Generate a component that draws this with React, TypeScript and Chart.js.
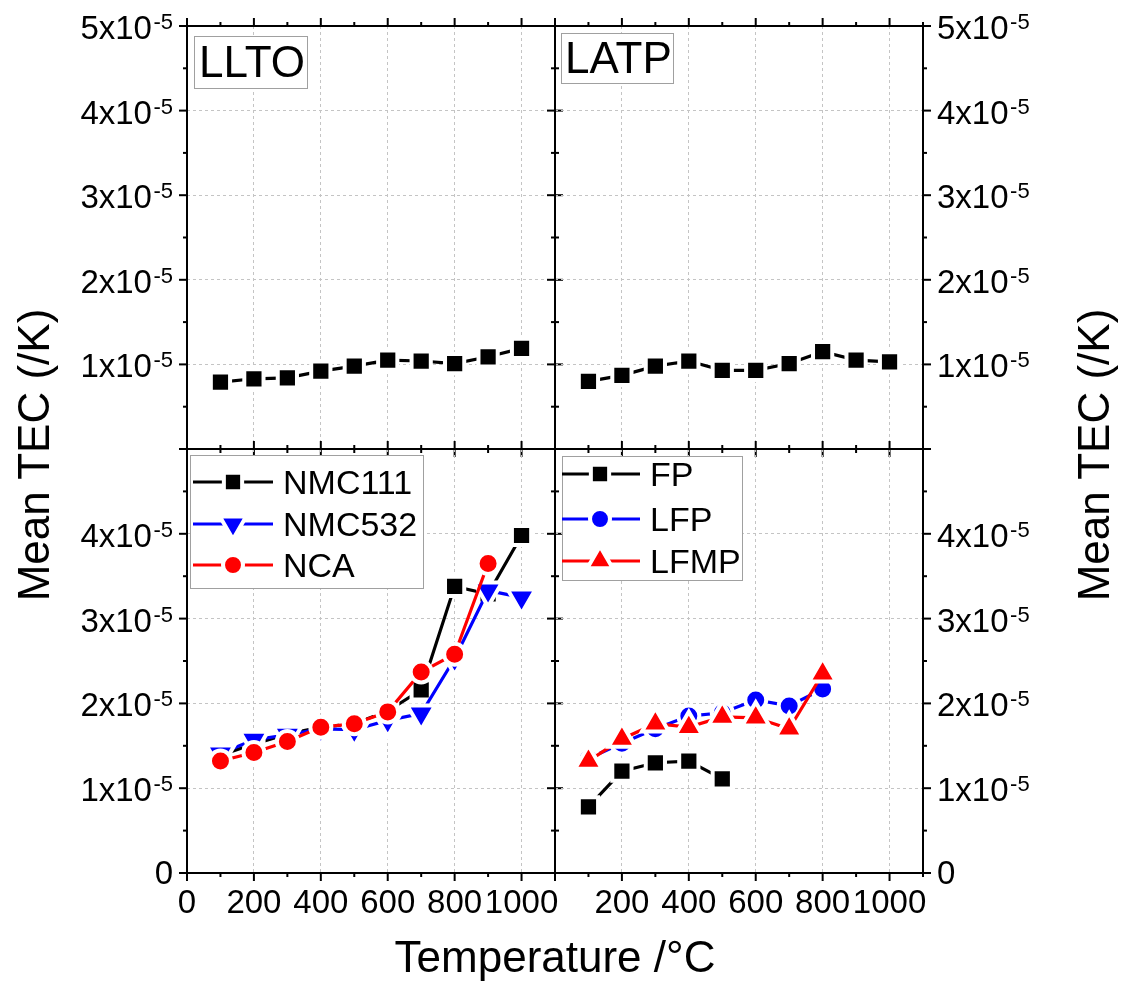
import React, { useEffect, useRef } from 'react';
import { Chart, registerables } from 'chart.js';

Chart.register(...registerables);

// ---------------- data ----------------
const TEMPS = [100, 200, 300, 400, 500, 600, 700, 800, 900, 1000];
const LLTO_TEC = [7.9e-6, 8.3e-6, 8.4e-6, 9.2e-6, 9.8e-6, 10.5e-6, 10.4e-6, 10.1e-6, 10.9e-6, 11.9e-6];
const LATP_TEC = [8.0e-6, 8.7e-6, 9.8e-6, 10.4e-6, 9.3e-6, 9.3e-6, 10.1e-6, 11.5e-6, 10.5e-6, 10.3e-6];

const NMC111_TEC = [1.39e-5, 1.52e-5, 1.64e-5, 1.72e-5, 1.76e-5, 1.91e-5, 2.16e-5, 3.38e-5, 3.29e-5, 3.98e-5];
const NMC532_TEC = [1.41e-5, 1.57e-5, 1.63e-5, 1.7e-5, 1.69e-5, 1.8e-5, 1.88e-5, 2.53e-5, 3.33e-5, 3.25e-5];
const NCA_TEMPS = [100, 200, 300, 400, 500, 600, 700, 800, 900];
const NCA_TEC = [1.32e-5, 1.42e-5, 1.55e-5, 1.72e-5, 1.76e-5, 1.9e-5, 2.37e-5, 2.58e-5, 3.65e-5];

const FP_TEMPS = [100, 200, 300, 400, 500];
const FP_TEC = [0.78e-5, 1.2e-5, 1.3e-5, 1.32e-5, 1.11e-5];
const LFP_TEMPS = [100, 200, 300, 400, 500, 600, 700, 800];
const LFP_TEC = [1.35e-5, 1.53e-5, 1.7e-5, 1.85e-5, 1.89e-5, 2.04e-5, 1.97e-5, 2.17e-5];
const LFMP_TEMPS = [100, 200, 300, 400, 500, 600, 700, 800];
const LFMP_TEC = [1.32e-5, 1.58e-5, 1.76e-5, 1.72e-5, 1.84e-5, 1.83e-5, 1.7e-5, 2.35e-5];

// ---------------- axes ----------------
const X_MIN = 0;
const X_MAX = 1100;
const X_TICKS = [0, 200, 400, 600, 800, 1000];
const X_TICK_LABELS = ['0', '200', '400', '600', '800', '1000'];
const X_MINOR = [0, 100, 200, 300, 400, 500, 600, 700, 800, 900, 1000, 1100];

const Y_MIN = 0;
const Y_MAX = 5e-5;
const Y_TICKS = [0, 1e-5, 2e-5, 3e-5, 4e-5, 5e-5];
const Y_TICK_MAIN = ['0', '1x10', '2x10', '3x10', '4x10', '5x10'];
const Y_TICK_EXP = ['', '-5', '-5', '-5', '-5', '-5'];
const Y_MINOR = [0, 0.5e-5, 1e-5, 1.5e-5, 2e-5, 2.5e-5, 3e-5, 3.5e-5, 4e-5, 4.5e-5, 5e-5];

const X_TITLE = 'Temperature /°C';
const Y_TITLE = 'Mean TEC (/K)';

// ---------------- layout ----------------
const W = 1121;
const H = 988;
const FONT = "'Liberation Sans', Arial, Helvetica, sans-serif";
Chart.defaults.font.family = FONT;

type Series = {
  label: string;
  xs: number[];
  ys: number[];
  color: string;
  style: string;
  radius: number;
  rotation: number;
  order: number;
};

const SQ = { style: 'rect', radius: 13.6, rotation: 0 };
const CI = { style: 'circle', radius: 10.5, rotation: 0 };
const TU = { style: 'triangle', radius: 15.5, rotation: 0 };
const TD = { style: 'triangle', radius: 16, rotation: 180 };

type PanelCfg = {
  key: string;
  rect: { l: number; t: number; r: number; b: number };
  top: boolean;
  right: boolean;
  series: Series[];
  tag: null | { text: string; x: number; y: number; w: number; h: number; tx: number; ty: number };
  legend: null | { x: number; y: number; w: number; h: number; rows: number[]; lx0: number; lx1: number; mx: number; tx: number };
};

const PANELS: PanelCfg[] = [
  {
    key: 'tl',
    rect: { l: 187, t: 26, r: 555, b: 449 },
    top: true,
    right: false,
    series: [{ label: 'LLTO', xs: TEMPS, ys: LLTO_TEC, color: '#000000', order: 0, ...SQ }],
    tag: { text: 'LLTO', x: 194, y: 36, w: 113, h: 52, tx: 199, ty: 77 },
    legend: null,
  },
  {
    key: 'tr',
    rect: { l: 555, t: 26, r: 923, b: 449 },
    top: true,
    right: true,
    series: [{ label: 'LATP', xs: TEMPS, ys: LATP_TEC, color: '#000000', order: 0, ...SQ }],
    tag: { text: 'LATP', x: 561, y: 33, w: 112, h: 50, tx: 565, ty: 73 },
    legend: null,
  },
  {
    key: 'bl',
    rect: { l: 187, t: 449, r: 555, b: 873 },
    top: false,
    right: false,
    series: [
      { label: 'NMC111', xs: TEMPS, ys: NMC111_TEC, color: '#000000', order: 2, ...SQ },
      { label: 'NMC532', xs: TEMPS, ys: NMC532_TEC, color: '#0000ff', order: 1, ...TD },
      { label: 'NCA', xs: NCA_TEMPS, ys: NCA_TEC, color: '#ff0000', order: 0, ...CI },
    ],
    tag: null,
    legend: { x: 190, y: 455, w: 233, h: 133, rows: [482, 524, 565], lx0: 193, lx1: 273, mx: 233, tx: 283 },
  },
  {
    key: 'br',
    rect: { l: 555, t: 449, r: 923, b: 873 },
    top: false,
    right: true,
    series: [
      { label: 'FP', xs: FP_TEMPS, ys: FP_TEC, color: '#000000', order: 2, ...SQ },
      { label: 'LFP', xs: LFP_TEMPS, ys: LFP_TEC, color: '#0000ff', order: 1, ...CI },
      { label: 'LFMP', xs: LFMP_TEMPS, ys: LFMP_TEC, color: '#ff0000', order: 0, ...TU },
    ],
    tag: null,
    legend: { x: 562, y: 456, w: 180, h: 124, rows: [474, 519, 561], lx0: 562, lx1: 640, mx: 600, tx: 650 },
  },
];

function drawMarker(ctx: CanvasRenderingContext2D, style: string, x: number, y: number, r: number, rot: number, color: string) {
  ctx.save();
  ctx.beginPath();
  if (style === 'rect') {
    const s = r * Math.SQRT1_2;
    ctx.rect(x - s, y - s, 2 * s, 2 * s);
  } else if (style === 'circle') {
    ctx.arc(x, y, r, 0, Math.PI * 2);
  } else {
    let a = (rot * Math.PI) / 180;
    ctx.moveTo(x + Math.sin(a) * r, y - Math.cos(a) * r);
    a += (2 * Math.PI) / 3;
    ctx.lineTo(x + Math.sin(a) * r, y - Math.cos(a) * r);
    a += (2 * Math.PI) / 3;
    ctx.lineTo(x + Math.sin(a) * r, y - Math.cos(a) * r);
    ctx.closePath();
  }
  ctx.fillStyle = color;
  ctx.fill();
  ctx.strokeStyle = '#ffffff';
  ctx.lineWidth = 4;
  ctx.stroke();
  ctx.restore();
}

function makeDecor(cfg: PanelCfg) {
  return {
    id: 'decor_' + cfg.key,
    afterDraw(chart: any) {
      const ctx: CanvasRenderingContext2D = chart.ctx;
      const a = chart.chartArea;
      const xs = chart.scales.x;
      const ys = chart.scales.y;
      ctx.save();
      // frame
      ctx.strokeStyle = '#000000';
      ctx.lineWidth = 2;
      ctx.strokeRect(a.left, a.top, a.right - a.left, a.bottom - a.top);
      // tick marks, outward on all four sides
      const seg = (x0: number, y0: number, x1: number, y1: number) => {
        ctx.beginPath();
        ctx.moveTo(x0, y0);
        ctx.lineTo(x1, y1);
        ctx.stroke();
      };
      X_MINOR.forEach((v) => {
        const px = xs.getPixelForValue(v);
        const len = v % 200 === 0 ? 8 : 4;
        seg(px, a.top, px, a.top - len);
        seg(px, a.bottom, px, a.bottom + len);
      });
      Y_MINOR.forEach((v) => {
        const py = ys.getPixelForValue(v);
        const len = Math.round(v / 0.5e-5) % 2 === 0 ? 8 : 4;
        seg(a.left, py, a.left - len, py);
        seg(a.right, py, a.right + len, py);
      });
      ctx.fillStyle = '#000000';
      ctx.textBaseline = 'alphabetic';
      // x tick labels (bottom panels only)
      if (!cfg.top) {
        ctx.font = `33px ${FONT}`;
        ctx.textAlign = 'center';
        X_TICKS.forEach((v, i) => {
          if (cfg.right && i === 0) return;
          const px = xs.getPixelForValue(v);
          ctx.fillText(X_TICK_LABELS[i], px, a.bottom + 40);
        });
      }
      // y tick labels with superscript exponent
      Y_TICKS.forEach((v, i) => {
        if (cfg.top && i === 0) return;
        if (!cfg.top && i === Y_TICKS.length - 1) return;
        const py = ys.getPixelForValue(v);
        const main = Y_TICK_MAIN[i];
        const exp = Y_TICK_EXP[i];
        ctx.font = `33px ${FONT}`;
        const wm = ctx.measureText(main).width;
        ctx.font = `22px ${FONT}`;
        const we = exp ? ctx.measureText(exp).width + 1.5 : 0;
        const base = exp ? py + 13 : py + 11;
        const x0 = !cfg.right ? a.left - 14 - we - wm : a.right + 14;
        ctx.textAlign = 'left';
        ctx.font = `33px ${FONT}`;
        ctx.fillText(main, x0, base);
        if (exp) {
          ctx.font = `22px ${FONT}`;
          ctx.fillText(exp, x0 + wm + 1.5, py + 3);
        }
      });
      // panel tag
      if (cfg.tag) {
        const t = cfg.tag;
        ctx.fillStyle = '#ffffff';
        ctx.fillRect(t.x, t.y, t.w, t.h);
        ctx.strokeStyle = '#a0a0a0';
        ctx.lineWidth = 1;
        ctx.strokeRect(t.x + 0.5, t.y + 0.5, t.w, t.h);
        ctx.fillStyle = '#000000';
        ctx.font = `44px ${FONT}`;
        ctx.textAlign = 'left';
        ctx.fillText(t.text, t.tx, t.ty);
      }
      // legend
      if (cfg.legend) {
        const L = cfg.legend;
        ctx.fillStyle = '#ffffff';
        ctx.fillRect(L.x, L.y, L.w, L.h);
        ctx.strokeStyle = '#a0a0a0';
        ctx.lineWidth = 1;
        ctx.strokeRect(L.x + 0.5, L.y + 0.5, L.w, L.h);
        cfg.series.forEach((s, i) => {
          const ry = L.rows[i];
          ctx.strokeStyle = s.color;
          ctx.lineWidth = 3;
          seg(L.lx0, ry, L.lx1, ry);
          drawMarker(ctx, s.style, L.mx, ry, s.radius * 0.95, s.rotation, s.color);
          ctx.fillStyle = '#000000';
          ctx.font = `34px ${FONT}`;
          ctx.textAlign = 'left';
          ctx.textBaseline = 'alphabetic';
          ctx.fillText(s.label, L.tx, ry + 12);
        });
      }
      ctx.restore();
    },
  };
}

function buildConfig(cfg: PanelCfg): any {
  const datasets = cfg.series.map((s) => ({
    label: s.label,
    data: s.xs.map((x, i) => ({ x, y: s.ys[i] })),
    borderColor: s.color,
    backgroundColor: s.color,
    borderWidth: 3.2,
    pointStyle: s.style,
    pointRadius: s.radius,
    pointRotation: s.rotation,
    pointBackgroundColor: s.color,
    pointBorderColor: '#ffffff',
    pointBorderWidth: 4,
    tension: 0,
    fill: false,
    order: s.order,
    clip: false,
  }));
  const r = cfg.rect;
  return {
    type: 'line',
    data: { datasets },
    options: {
      responsive: false,
      animation: false,
      events: [],
      layout: { padding: { left: r.l, top: r.t, right: W - r.r, bottom: H - r.b } },
      plugins: { legend: { display: false }, title: { display: false }, tooltip: { enabled: false } },
      scales: {
        x: {
          type: 'linear',
          position: 'bottom',
          min: X_MIN,
          max: X_MAX,
          afterBuildTicks: (s: any) => {
            s.ticks = X_TICKS.map((v) => ({ value: v }));
          },
          afterFit: (s: any) => {
            s.height = 0;
          },
          grid: {
            color: (c: any) => (c.tick && c.tick.value === 0 ? 'rgba(0,0,0,0)' : '#c4c4c4'),
            lineWidth: 1,
            drawTicks: false,
            borderDash: [3, 3],
          },
          border: { display: false, dash: [3, 3] },
          ticks: { display: false },
        },
        y: {
          type: 'linear',
          position: cfg.right ? 'right' : 'left',
          min: Y_MIN,
          max: Y_MAX,
          afterBuildTicks: (s: any) => {
            s.ticks = Y_TICKS.map((v) => ({ value: v }));
          },
          afterFit: (s: any) => {
            s.width = 0;
          },
          grid: {
            color: (c: any) =>
              c.tick && (c.tick.value === 0 || c.tick.value === Y_MAX) ? 'rgba(0,0,0,0)' : '#c4c4c4',
            lineWidth: 1,
            drawTicks: false,
            borderDash: [3, 3],
          },
          border: { display: false, dash: [3, 3] },
          ticks: { display: false },
        },
      },
    },
    plugins: [makeDecor(cfg)],
  };
}

function Panel({ cfg }: { cfg: PanelCfg }) {
  const ref = useRef<HTMLCanvasElement>(null);
  useEffect(() => {
    if (!ref.current) return;
    const chart = new Chart(ref.current, buildConfig(cfg));
    return () => chart.destroy();
  }, [cfg]);
  return (
    <canvas
      ref={ref}
      width={W}
      height={H}
      style={{ position: 'absolute', left: 0, top: 0, width: W, height: H, pointerEvents: 'none' }}
    />
  );
}

const titleStyle: React.CSSProperties = {
  position: 'absolute',
  fontFamily: FONT,
  fontSize: 44,
  lineHeight: '44px',
  height: 44,
  color: '#000',
  textAlign: 'center',
  whiteSpace: 'nowrap',
};

export default function App() {
  return (
    <div style={{ position: 'absolute', left: 0, top: 0, width: W, height: H, background: '#ffffff', overflow: 'hidden' }}>
      {PANELS.map((p) => (
        <Panel key={p.key} cfg={p} />
      ))}
      <div style={{ ...titleStyle, left: 555 - 250, top: 957 - 22, width: 500 }}>{X_TITLE}</div>
      <div
        style={{
          ...titleStyle,
          left: 34 - 200,
          top: 455 - 22,
          width: 400,
          transform: 'rotate(-90deg)',
          transformOrigin: 'center center',
        }}
      >
        {Y_TITLE}
      </div>
      <div
        style={{
          ...titleStyle,
          left: 1094 - 200,
          top: 455 - 22,
          width: 400,
          transform: 'rotate(-90deg)',
          transformOrigin: 'center center',
        }}
      >
        {Y_TITLE}
      </div>
    </div>
  );
}
